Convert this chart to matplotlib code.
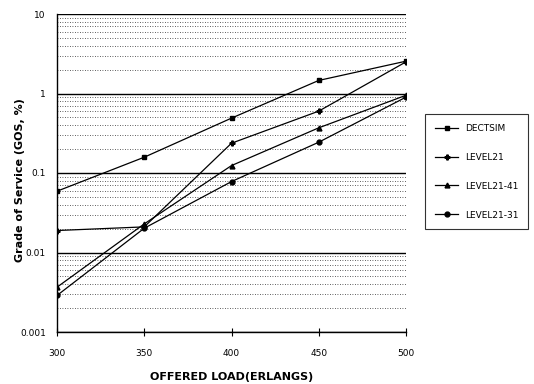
import matplotlib
matplotlib.use("Agg")
import matplotlib.pyplot as plt
from matplotlib.ticker import LogLocator, FixedLocator, NullFormatter

load = [300, 350, 400, 450, 500]
dectsim = [0.059, 0.158, 0.49, 1.46, 2.55]
level21 = [0.0189, 0.021, 0.237, 0.6, 2.5]
level21_41 = [0.00366, 0.0229, 0.124, 0.37, 0.95]
level21_31 = [0.00288, 0.0202, 0.078, 0.244, 0.9]
series_names = ["DECTSIM", "LEVEL21", "LEVEL21-41", "LEVEL21-31"]
ytick_vals = [0.001, 0.01, 0.1, 1, 10]
ytick_labels = ["0.001", "0.01", "0.1", "1", "10"]

W, H = 534, 384
fig = plt.figure(figsize=(W / 100, H / 100), dpi=100)
ax = fig.add_axes([57 / W, 1 - 332 / H, 349 / W, 318 / H])

markers = ["s", "P", "^", "o"]
for vals, name, m in zip([dectsim, level21, level21_41, level21_31], series_names, markers):
    ax.plot(load, vals, color="black", lw=0.9, marker=m, ms=3.5, label=name)

ax.set_yscale("log")
ax.set_ylim(0.001, 10)
ax.set_xlim(300, 500)
ax.set_yticks(ytick_vals)
ax.set_yticklabels(ytick_labels, fontsize=6.5)
ax.yaxis.set_minor_locator(LogLocator(base=10, subs=range(2, 10)))
ax.yaxis.set_minor_formatter(NullFormatter())
ax.set_xticks(load)
ax.set_xticklabels([str(v) for v in load], fontsize=6.5)

ax.grid(True, which="major", axis="y", color="black", lw=1.0)
ax.grid(True, which="minor", axis="y", color="black", lw=0.5, ls=(0, (1.2, 2.4)))
ax.tick_params(axis="y", which="both", length=0, pad=8)
ax.tick_params(axis="x", which="major", direction="inout", length=6, width=0.8, pad=9)

for s in ["top", "right"]:
    ax.spines[s].set_visible(False)
ax.spines["left"].set_linewidth(1.0)
ax.spines["bottom"].set_linewidth(1.0)

ax.set_xlabel("OFFERED LOAD(ERLANGS)", fontsize=8, fontweight="bold", labelpad=10)
fig.text(20 / W, 1 - 180 / H, "Grade of Service (GOS, %)", fontsize=8, fontweight="bold",
         rotation=90, ha="center", va="center")

leg = ax.legend(loc="upper left", bbox_to_anchor=(425 / W, 1 - 114 / H), bbox_transform=fig.transFigure,
                borderaxespad=0, frameon=True, fancybox=False, edgecolor="black",
                prop={"size": 6.5}, labelspacing=2.2, handlelength=2.6, borderpad=1.1,
                handletextpad=0.7)
leg.get_frame().set_linewidth(0.8)

fig.savefig("out.png", dpi=100)
